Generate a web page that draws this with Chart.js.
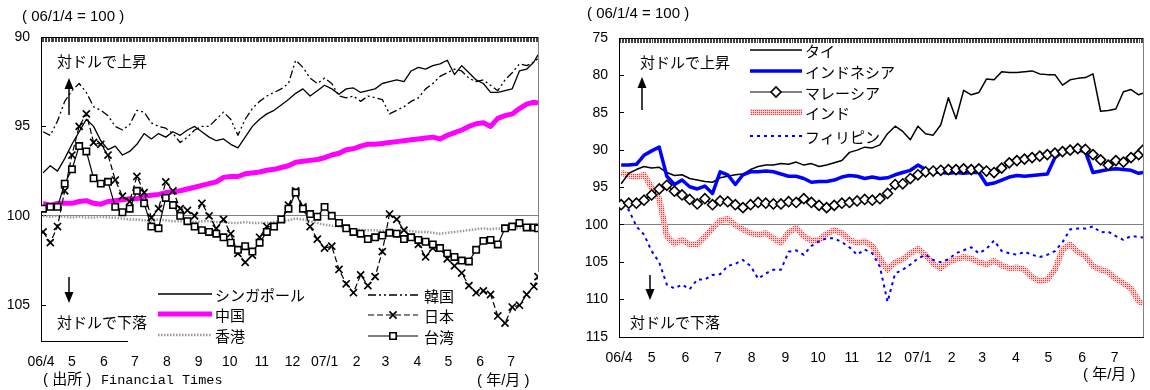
<!DOCTYPE html>
<html>
<head>
<meta charset="utf-8">
<script src="https://cdn.jsdelivr.net/npm/chart.js@4.4.0/dist/chart.umd.min.js"></script>
<style>
  body { margin: 0; background: #fff; width: 1150px; height: 390px; overflow: hidden; position: relative; }
  canvas { position: absolute; top: 0; }
  #c1 { left: 0; }
  #c2 { left: 565px; }
</style>
</head>
<body>
<canvas id="c1" width="565" height="390"></canvas>
<canvas id="c2" width="585" height="390"></canvas>
<script>
// 週次の観測日（2006/4〜2007/7）
const weeks = [
  "2006-04-03","2006-04-10","2006-04-17","2006-04-24","2006-05-01","2006-05-08","2006-05-15","2006-05-22","2006-05-29",
  "2006-06-05","2006-06-12","2006-06-19","2006-06-26","2006-07-03","2006-07-10","2006-07-17","2006-07-24","2006-07-31",
  "2006-08-07","2006-08-14","2006-08-21","2006-08-28","2006-09-04","2006-09-11","2006-09-18","2006-09-25","2006-10-02",
  "2006-10-09","2006-10-16","2006-10-23","2006-10-30","2006-11-06","2006-11-13","2006-11-20","2006-11-27","2006-12-04",
  "2006-12-11","2006-12-18","2006-12-25","2007-01-01","2007-01-08","2007-01-15","2007-01-22","2007-01-29","2007-02-05",
  "2007-02-12","2007-02-19","2007-02-26","2007-03-05","2007-03-12","2007-03-19","2007-03-26","2007-04-02","2007-04-09",
  "2007-04-16","2007-04-23","2007-04-30","2007-05-07","2007-05-14","2007-05-21","2007-05-28","2007-06-04","2007-06-11",
  "2007-06-18","2007-06-25","2007-07-02","2007-07-09","2007-07-16","2007-07-23","2007-07-27"
];
const monthStarts = ["2006-04-01","2006-05-01","2006-06-01","2006-07-01","2006-08-01","2006-09-01","2006-10-01","2006-11-01",
  "2006-12-01","2007-01-01","2007-02-01","2007-03-01","2007-04-01","2007-05-01","2007-06-01","2007-07-01"];
const monthLabels = ["06/4","5","6","7","8","9","10","11","12","07/1","2","3","4","5","6","7"];
const lastDay = "2007-07-27";
const leftTicks = [90, 95, 100, 105];
const rightTicks = [75, 80, 85, 90, 95, 100, 105, 110, 115];

// 左：東アジア
const singapore = [97.6,97.2,97.5,96.8,96.0,95.3,94.6,95.0,95.8,96.3, 96.1,96.6,96.4,96.0,95.4,95.7,95.4,95.6,95.3,95.5,
  95.2,95.0,95.3,95.6,95.8,95.7,96.0,96.2,95.6,95.0, 94.6,94.3,94.1,93.8,93.5,93.15,92.9,93.3,93.0,92.7,
  92.9,93.2,92.9,92.85,93.1,93.0,92.9,92.6,92.5,92.4, 92.5,91.9,91.7,91.8,91.6,91.5,91.3,92.1,91.6,92.0,
  92.4,92.6,93.1,93.1,93.0,92.9,91.9,91.8,91.4,91.0];
const korea = [95.3,95.5,94.7,93.6,93.0,92.6,93.1,93.9,94.1,94.4, 95.0,95.2,94.9,94.1,94.2,94.8,95.0,95.1,95.4,95.9,
  95.6,95.2,95.0,95.0,94.6,94.2,94.6,95.5,94.6,94.0, 93.6,93.3,93.1,92.9,92.6,91.3,91.7,92.3,92.6,92.3,
  92.6,93.3,93.4,93.3,93.6,93.3,93.4,93.5,94.3,94.1, 93.9,93.6,93.4,92.9,92.6,92.2,92.0,91.8,91.9,92.3,
  92.5,92.4,92.7,93.0,92.4,92.0,91.5,91.6,91.4,91.2];
const china = [99.3,99.4,99.3,99.3,99.3,99.2,99.15,99.3,99.35,99.2, 99.15,99.1,99.05,99.05,98.9,98.85,98.8,98.7,98.65,98.6,
  98.5,98.4,98.3,98.2,98.1,97.85,97.8,97.8,97.65,97.6, 97.55,97.45,97.4,97.3,97.2,97.0,96.95,96.9,96.85,96.75,
  96.6,96.5,96.3,96.25,96.1,96.0,96.0,95.95,95.9,95.85, 95.8,95.75,95.7,95.65,95.6,95.7,95.5,95.35,95.2,95.0,
  94.85,94.8,95.0,94.55,94.4,94.3,94.0,93.75,93.65,93.7];
const hongkong = [100.0,100.05,100.0,100.05,100.1,100.05,100.1,100.1,100.05,100.1, 100.1,100.15,100.2,100.2,100.25,100.25,100.2,100.25,100.3,100.3,
  100.3,100.35,100.3,100.3,100.35,100.35,100.4,100.4,100.35,100.4, 100.4,100.4,100.35,100.3,100.25,100.15,100.2,100.3,100.4,100.5,
  100.55,100.6,100.7,100.75,100.8,100.8,100.8,100.85,100.8,100.85, 100.8,100.85,100.9,100.9,100.95,101.0,100.95,100.9,100.85,100.8,
  100.75,100.7,100.75,100.7,100.75,100.7,100.65,100.7,100.7,100.7];
const japan = [100.9,101.5,100.6,98.6,96.6,95.0,94.3,95.9,96.0,96.6, 98.0,98.9,99.2,97.8,98.7,100.1,99.6,98.1,98.6,99.6,
  99.7,100.0,99.3,100.0,100.7,100.2,101.0,102.1,102.6,102.2, 101.2,100.6,100.6,100.2,99.4,98.6,99.5,100.6,101.3,101.8,
  101.7,103.0,103.8,104.3,103.3,103.9,103.4,102.0,99.9,100.2, 100.8,101.2,101.6,102.3,101.8,101.8,102.4,102.8,103.2,103.9,
  104.3,104.2,104.4,105.6,106.0,105.1,105.0,104.4,103.95,103.4];
const taiwan = [99.6,99.5,99.5,98.2,97.4,96.1,96.4,97.9,98.2,98.1, 99.5,99.8,99.6,98.6,99.3,100.6,100.7,99.0,99.4,100.0,
  100.3,100.6,100.8,100.9,101.0,101.2,101.5,101.9,101.7,102.0, 101.5,100.9,100.6,100.2,99.6,98.7,99.6,99.9,100.05,99.5,
  100.0,100.4,100.7,100.9,101.0,101.3,101.2,101.1,100.95,101.0, 101.3,101.2,101.35,101.45,101.6,101.8,102.1,102.3,102.5,102.55,
  101.9,101.4,101.35,101.6,100.7,100.6,100.4,100.65,100.65,100.7];

// 右：東南アジア・インド
const thai = [94.5,93.1,92.6,92.2,92.4,92.3,93.0,93.4,93.3,93.8, 94.0,94.2,94.3,93.7,93.5,93.3,93.2,92.6,92.2,92.0,
  92.0,91.8,91.9,91.6,92.0,91.8,92.2,92.0,91.7,91.4, 90.3,90.0,89.6,89.7,89.3,87.8,86.8,87.5,88.6,86.8,
  87.8,88.0,86.6,83.0,85.8,82.0,82.6,82.3,80.5,80.6, 79.5,79.6,79.6,79.5,79.4,79.8,79.9,79.9,81.3,80.6,
  80.4,80.3,79.8,84.8,84.7,84.5,82.2,81.9,82.6,82.4];
const indonesia = [92.0,92.0,91.9,90.7,90.1,89.6,93.5,94.6,94.0,94.9, 95.2,94.8,95.8,92.9,93.3,94.6,93.3,92.9,92.9,92.8,
  92.9,93.2,93.5,93.5,93.8,94.3,94.2,94.2,94.0,93.6, 93.4,93.5,93.8,93.6,93.8,93.7,93.3,93.0,92.7,92.0,
  92.6,92.9,93.0,93.1,93.0,93.1,93.0,93.0,94.6,94.4, 94.0,93.6,93.4,93.5,93.4,93.3,93.2,91.0,90.2,90.1,
  90.0,90.2,93.0,92.8,92.6,92.5,92.6,92.7,93.1,93.0];
const malaysia = [97.3,97.1,97.1,96.7,96.0,95.2,94.7,95.5,96.0,96.6, 97.2,96.5,97.3,96.8,96.9,97.3,97.7,97.3,97.0,97.1,
  97.2,97.2,96.9,97.0,96.5,97.0,97.4,97.7,97.4,97.1, 97.0,96.8,96.6,96.7,96.5,95.8,94.6,94.5,93.8,93.3,
  92.9,92.8,92.7,92.6,92.6,92.5,92.6,92.5,92.8,93.0, 92.4,91.7,91.4,91.2,91.0,90.8,90.6,90.4,90.2,90.0,
  89.8,89.9,90.6,91.3,92.0,91.4,91.6,91.0,90.6,90.0];
const india = [93.0,93.4,93.6,93.3,95.0,96.5,101.5,102.5,102.0,102.6, 102.6,101.6,100.5,99.4,99.2,100.0,100.6,101.1,101.3,101.1,
  101.8,102.4,101.0,100.4,101.5,102.1,102.0,101.2,100.7,101.1, 102.0,102.4,102.2,102.8,104.5,106.0,105.0,104.6,103.8,103.2,
  104.0,105.2,105.8,105.0,104.6,104.3,104.5,105.0,105.3,104.8, 105.4,105.8,105.7,106.0,107.0,107.5,107.3,106.0,103.3,102.6,
  103.6,104.2,105.5,106.0,106.3,107.2,107.8,108.5,110.2,110.6];
const philippines = [97.5,98.0,100.2,101.3,103.5,105.0,108.0,108.5,108.0,108.6, 107.3,107.3,106.7,106.6,105.5,105.2,104.7,105.5,107.2,106.5,
  106.0,106.0,103.6,103.4,104.0,102.8,102.2,101.8,101.8,102.3, 103.0,104.0,103.3,103.8,105.6,110.3,106.5,106.0,105.3,104.5,
  104.0,104.7,105.0,104.6,103.8,103.4,103.0,103.8,103.2,102.1, 103.5,103.8,104.0,103.6,104.0,104.3,104.0,103.5,102.3,100.6,
  100.5,100.5,100.2,101.0,100.9,101.5,102.0,101.5,101.6,101.7];

const base = Date.UTC(2006, 3, 1);
function dayOf(s) {
  const [y, m, d] = s.split("-").map(Number);
  return (Date.UTC(y, m - 1, d) - base) / 86400000;
}
const xDays = weeks.map(dayOf);
const monthDays = monthStarts.map(dayOf);
const endDay = dayOf(lastDay);
// 上辺の細かい目盛り（営業日を等間隔に並べた感じ）
const topStep = 1.4;
const topTicks = [];
for (let t = 0; t <= endDay; t += topStep) topTicks.push({ value: t });
const pts = vals => vals.map((v, i) => ({ x: xDays[i], y: v }));

const JP = '"Noto Sans CJK JP", sans-serif';
const MIX = '"Liberation Sans", "Noto Sans CJK JP", sans-serif';
const NUM = '"Liberation Sans", Arial, sans-serif';

function dotPattern() {
  const c = document.createElement("canvas");
  c.width = 2; c.height = 2;
  const g = c.getContext("2d");
  g.fillStyle = "#ffcfcf"; g.fillRect(0, 0, 2, 2);
  g.fillStyle = "#ff2e2e"; g.fillRect(0, 0, 1, 1);
  return g.createPattern(c, "repeat");
}

function makeScales(yMin, yMax, ticksList, yWidth, topH, bottomH) {
  return {
    x: {
      type: "linear", position: "bottom", min: 0, max: endDay,
      afterFit: s => { s.height = bottomH; },
      afterBuildTicks: s => { s.ticks = monthDays.map(v => ({ value: v })); },
      ticks: {
        autoSkip: false, maxRotation: 0, padding: 13, color: "#000",
        font: { family: NUM, size: 14 },
        callback: v => monthLabels[monthDays.indexOf(v)]
      },
      grid: { display: false, drawTicks: false },
      border: { display: true, color: "#000", width: 1 }
    },
    xTop: {
      type: "linear", position: "top", min: 0, max: endDay,
      afterFit: s => { s.height = topH; },
      afterBuildTicks: s => { s.ticks = topTicks.slice(); },
      ticks: { display: false },
      grid: { drawOnChartArea: false, drawTicks: true, tickLength: -5, color: "#444", lineWidth: 1 },
      border: { display: true, color: "#000", width: 1 }
    },
    y: {
      type: "linear", min: yMin, max: yMax, reverse: true,
      afterFit: s => { s.width = yWidth; },
      afterBuildTicks: s => { s.ticks = ticksList.map(v => ({ value: v })); },
      ticks: { padding: 16, color: "#000", font: { family: NUM, size: 14 }, autoSkip: false },
      grid: {
        color: c => (c.tick && c.tick.value === 100) ? "#808080" : "rgba(0,0,0,0)",
        tickColor: "#000", tickLength: -5, drawTicks: true, lineWidth: 1
      },
      border: { display: true, color: "#000", width: 1 }
    }
  };
}

function arrow(ctx, x, yFrom, yTip) {
  const dir = yTip < yFrom ? -1 : 1;
  ctx.strokeStyle = "#000"; ctx.fillStyle = "#000"; ctx.lineWidth = 1.5;
  ctx.beginPath(); ctx.moveTo(x, yFrom); ctx.lineTo(x, yTip - dir * 8); ctx.stroke();
  ctx.beginPath();
  ctx.moveTo(x, yTip); ctx.lineTo(x - 4.5, yTip - dir * 11); ctx.lineTo(x + 4.5, yTip - dir * 11);
  ctx.closePath(); ctx.fill();
}

function decor(cfg) {
  return {
    id: "decor",
    beforeDatasetsDraw(chart) {
      const { ctx, chartArea: a } = chart;
      ctx.save();
      ctx.strokeStyle = "#808080"; ctx.lineWidth = 1;
      ctx.beginPath(); ctx.moveTo(a.right + 0.5, a.top); ctx.lineTo(a.right + 0.5, a.bottom); ctx.stroke();
      if (cfg.legendBox) {
        const b = cfg.legendBox;
        ctx.fillStyle = "#fff"; ctx.fillRect(b[0], b[1], b[2], b[3]);
      }
      ctx.restore();
    },
    afterDatasetsDraw(chart) {
      const ctx = chart.ctx;
      ctx.save();
      // 凡例
      cfg.legend.forEach(it => {
        const ds = chart.data.datasets.find(d => d.label === it.label);
        ctx.save();
        ctx.strokeStyle = ds.borderColor;
        ctx.lineWidth = ds.borderWidth;
        ctx.setLineDash(ds.borderDash || []);
        ctx.beginPath(); ctx.moveTo(it.x1, it.y); ctx.lineTo(it.x2, it.y); ctx.stroke();
        ctx.restore();
        if (ds.pointRadius > 0) {
          ctx.save();
          ctx.fillStyle = ds.pointBackgroundColor || "#fff";
          ctx.strokeStyle = ds.pointBorderColor || "#000";
          ctx.lineWidth = ds.pointBorderWidth || 1;
          Chart.helpers.drawPoint(ctx, { pointStyle: ds.pointStyle, radius: ds.pointRadius, borderWidth: ds.pointBorderWidth, rotation: 0 },
            (it.x1 + it.x2) / 2, it.y);
          ctx.restore();
        }
        ctx.fillStyle = "#000";
        ctx.font = "15px " + JP;
        ctx.textAlign = "left"; ctx.textBaseline = "middle";
        ctx.fillText(it.label, it.tx, it.y + 1);
      });
      // 文字
      cfg.texts.forEach(t => {
        ctx.fillStyle = "#000";
        ctx.font = t.font;
        ctx.textAlign = "left"; ctx.textBaseline = "middle";
        ctx.fillText(t.s, t.x, t.y);
      });
      cfg.arrows.forEach(a => arrow(ctx, a[0], a[1], a[2]));
      ctx.restore();
    }
  };
}

const baseOptions = (padRight, scales) => ({
  responsive: false, animation: false, devicePixelRatio: 1,
  layout: { padding: { left: 0, right: padRight, top: 0, bottom: 0 } },
  plugins: { legend: { display: false }, tooltip: { enabled: false } },
  elements: { line: { tension: 0, borderJoinStyle: "round" }, point: { radius: 0, hoverRadius: 0 } },
  scales: scales
});

// 左のグラフ
new Chart(document.getElementById("c1"), {
  type: "line",
  data: {
    datasets: [
      { label: "台湾", data: pts(taiwan), xAxisID: "x", yAxisID: "y", borderColor: "#000", borderWidth: 1.2,
        pointStyle: "rect", pointRadius: 4.5, pointBackgroundColor: "#fff", pointBorderColor: "#000", pointBorderWidth: 1.6 },
      { label: "日本", data: pts(japan), xAxisID: "x", yAxisID: "y", borderColor: "#000", borderWidth: 1.2, borderDash: [6, 3],
        pointStyle: "crossRot", pointRadius: 5, pointBorderColor: "#000", pointBorderWidth: 1.7 },
      { label: "シンガポール", data: pts(singapore), xAxisID: "x", yAxisID: "y", borderColor: "#000", borderWidth: 1.3, pointRadius: 0 },
      { label: "韓国", data: pts(korea), xAxisID: "x", yAxisID: "y", borderColor: "#000", borderWidth: 1.3, borderDash: [8, 3, 2, 3, 2, 3], pointRadius: 0 },
      { label: "中国", data: pts(china), xAxisID: "x", yAxisID: "y", borderColor: "#ff00ff", borderWidth: 5, pointRadius: 0 },
      { label: "香港", data: pts(hongkong), xAxisID: "x", yAxisID: "y", borderColor: "#9a9a9a", borderWidth: 2.5, borderDash: [1.5, 1.5], pointRadius: 0 }
    ]
  },
  options: baseOptions(27, makeScales(90, 107, leftTicks, 41, 37, 49)),
  plugins: [decor({
    legendBox: [128, 272, 420, 76],
    legend: [
      { label: "シンガポール", x1: 158, x2: 212, y: 294, tx: 215 },
      { label: "中国", x1: 158, x2: 212, y: 314, tx: 215 },
      { label: "香港", x1: 158, x2: 212, y: 335, tx: 215 },
      { label: "韓国", x1: 368, x2: 418, y: 295, tx: 424 },
      { label: "日本", x1: 368, x2: 418, y: 315, tx: 424 },
      { label: "台湾", x1: 368, x2: 418, y: 336, tx: 424 }
    ],
    texts: [
      { s: "( 06/1/4 = 100 )", x: 22, y: 17, font: "15px " + NUM },
      { s: "対ドルで上昇", x: 57, y: 61, font: "15px " + JP },
      { s: "対ドルで下落", x: 57, y: 322, font: "15px " + JP },
      { s: "( 出所 )", x: 43, y: 380, font: "15px " + MIX },
      { s: "Financial Times", x: 101, y: 380, font: '13.5px "Liberation Mono", monospace' },
      { s: "( 年/月 )", x: 477, y: 381, font: "15px " + MIX }
    ],
    arrows: [[69, 115, 78], [69, 277, 303]]
  })]
});

// 右のグラフ
new Chart(document.getElementById("c2"), {
  type: "line",
  data: {
    datasets: [
      { label: "マレーシア", data: pts(malaysia), xAxisID: "x", yAxisID: "y", borderColor: "#000", borderWidth: 1.2,
        pointStyle: "rectRot", pointRadius: 5, pointBackgroundColor: "#fff", pointBorderColor: "#000", pointBorderWidth: 1.6 },
      { label: "インドネシア", data: pts(indonesia), xAxisID: "x", yAxisID: "y", borderColor: "#0000ff", borderWidth: 3.5, pointRadius: 0 },
      { label: "タイ", data: pts(thai), xAxisID: "x", yAxisID: "y", borderColor: "#000", borderWidth: 1.5, pointRadius: 0 },
      { label: "フィリピン", data: pts(philippines), xAxisID: "x", yAxisID: "y", borderColor: "#0000ff", borderWidth: 2, borderDash: [3, 4], pointRadius: 0 },
      { label: "インド", data: pts(india), xAxisID: "x", yAxisID: "y", borderColor: dotPattern(), borderWidth: 6, pointRadius: 0 }
    ]
  },
  options: baseOptions(7, makeScales(75, 115, rightTicks, 54, 38, 53)),
  plugins: [decor({
    legendBox: null,
    legend: [
      { label: "タイ", x1: 185, x2: 237, y: 50, tx: 240 },
      { label: "インドネシア", x1: 185, x2: 237, y: 71, tx: 240 },
      { label: "マレーシア", x1: 185, x2: 237, y: 92, tx: 240 },
      { label: "インド", x1: 185, x2: 237, y: 112, tx: 240 },
      { label: "フィリピン", x1: 185, x2: 237, y: 136, tx: 240 }
    ],
    texts: [
      { s: "( 06/1/4 = 100 )", x: 22, y: 14, font: "15px " + NUM },
      { s: "対ドルで上昇", x: 75, y: 62, font: "15px " + JP },
      { s: "対ドルで下落", x: 65, y: 322, font: "15px " + JP },
      { s: "( 年/月 )", x: 518, y: 375, font: "15px " + MIX }
    ],
    arrows: [[77, 110, 77], [85, 275, 300]]
  })]
});
</script>
</body>
</html>
